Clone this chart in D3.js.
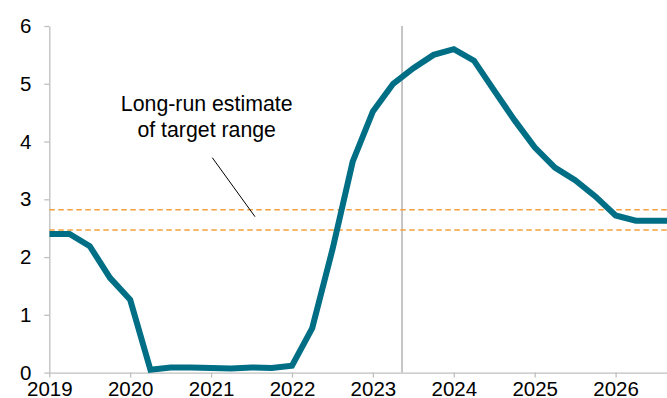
<!DOCTYPE html>
<html>
<head>
<meta charset="utf-8">
<script src="https://cdn.jsdelivr.net/npm/d3@7"></script>
<style>
  html, body { margin: 0; padding: 0; background: #fff; }
  svg { display: block; font-family: "Liberation Sans", Arial, sans-serif; }
</style>
</head>
<body>
<svg id="chart" width="667" height="398"></svg>
<script>
// Quarterly policy rate path (per cent), 2019 onward
const quarters = [2019, 2019.25, 2019.5, 2019.75, 2020, 2020.25, 2020.5, 2020.75,
  2021, 2021.25, 2021.5, 2021.75, 2022, 2022.25, 2022.5, 2022.75,
  2023, 2023.25, 2023.5, 2023.75, 2024, 2024.25, 2024.5, 2024.75,
  2025, 2025.25, 2025.5, 2025.75, 2026, 2026.25, 2026.5, 2026.75];
const rate = [2.40, 2.40, 2.19, 1.64, 1.26, 0.05, 0.09, 0.09,
  0.08, 0.07, 0.09, 0.08, 0.12, 0.77, 2.13, 3.65,
  4.52, 5.00, 5.27, 5.50, 5.60, 5.40, 4.88, 4.37,
  3.90, 3.55, 3.33, 3.05, 2.72, 2.63, 2.63, 2.63];
// Long-run estimate band (per cent)
const longRunBand = [2.47, 2.82];
const yTicks = [0, 1, 2, 3, 4, 5, 6];
const xTicks = [2019, 2020, 2021, 2022, 2023, 2024, 2025, 2026];
const markerYear = 2023.36;
const noteLines = ["Long-run estimate", "of target range"];

const svg = d3.select("#chart");
const W = 667, H = 398;
const x0 = 49.3, yearW = 80.9;
const font = "Liberation Sans, Arial, sans-serif";

const x = d3.scaleLinear().domain([2019, 2020]).range([x0, x0 + yearW]);
const y = d3.scaleLinear().domain([0, 6]).range([372.6, 26]);
const xMax = x.invert(W);

svg.append("defs").append("clipPath").attr("id", "plot")
  .append("rect").attr("x", x0).attr("y", 0).attr("width", W - x0).attr("height", H);

const axisColor = "#bfbfbf";

// y axis
const yAxis = svg.append("g").attr("transform", `translate(${x0},0)`)
  .call(d3.axisLeft(y).tickValues(yTicks).tickFormat(d3.format("d"))
    .tickSize(5).tickPadding(13).tickSizeOuter(0));
yAxis.select(".domain").attr("stroke", axisColor).attr("stroke-width", 1.3);
yAxis.selectAll(".tick line").attr("stroke", axisColor).attr("stroke-width", 1.3);
yAxis.selectAll(".tick text").attr("font-size", 20.5).attr("fill", "#000")
  .attr("font-family", font);

// x axis
const xAxis = svg.append("g").attr("transform", `translate(0,${y(0)})`)
  .call(d3.axisBottom(x.copy().domain([2019, xMax]).range([x0, W]))
    .tickValues(xTicks).tickFormat(d3.format("d")).tickSize(5).tickPadding(4).tickSizeOuter(0));
xAxis.select(".domain").attr("stroke", axisColor).attr("stroke-width", 1.3);
xAxis.selectAll(".tick line").attr("stroke", axisColor).attr("stroke-width", 1.3);
xAxis.selectAll(".tick text").attr("font-size", 20.5).attr("fill", "#000")
  .attr("font-family", font);

// vertical marker
svg.append("line")
  .attr("x1", x(markerYear)).attr("x2", x(markerYear))
  .attr("y1", y(6)).attr("y2", y(0))
  .attr("stroke", "#b3b3b3").attr("stroke-width", 1.5);

// long-run band (dashed)
svg.append("g").selectAll("line").data(longRunBand).join("line")
  .attr("x1", x0).attr("x2", W)
  .attr("y1", d => y(d)).attr("y2", d => y(d))
  .attr("stroke", "#f4a040").attr("stroke-width", 1.5)
  .attr("stroke-dasharray", "5.5,3.5");

// rate path
const line = d3.line().x((d, i) => x(quarters[i])).y(d => y(d));
svg.append("path").datum(rate)
  .attr("clip-path", "url(#plot)")
  .attr("d", line)
  .attr("fill", "none")
  .attr("stroke", "#006f86")
  .attr("stroke-width", 6)
  .attr("stroke-linejoin", "miter")
  .attr("stroke-linecap", "butt");

// annotation
const note = svg.append("text")
  .attr("text-anchor", "middle")
  .attr("font-size", 21.3)
  .attr("font-family", font)
  .attr("fill", "#000");
note.selectAll("tspan").data(noteLines).join("tspan")
  .attr("x", 206.7)
  .attr("y", (d, i) => 111 + i * 26)
  .text(d => d);

svg.append("line")
  .attr("x1", 212.3).attr("y1", 157.7)
  .attr("x2", 255).attr("y2", 216.7)
  .attr("stroke", "#000").attr("stroke-width", 1);
</script>
</body>
</html>
